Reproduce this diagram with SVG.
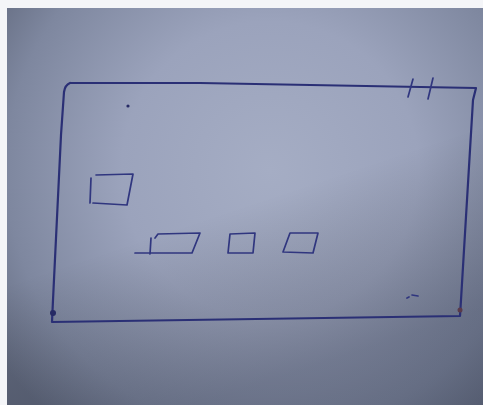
<svg xmlns="http://www.w3.org/2000/svg" width="483" height="405" viewBox="0 0 483 405">
  <defs>
    <radialGradient id="paper" cx="270" cy="170" r="330" gradientUnits="userSpaceOnUse">
      <stop offset="0" stop-color="#a5adc4"/>
      <stop offset="0.45" stop-color="#9ba3bc"/>
      <stop offset="0.8" stop-color="#7e879f"/>
      <stop offset="1" stop-color="#636b80"/>
    </radialGradient>
    <linearGradient id="shade" x1="0" y1="0" x2="0.4" y2="1">
      <stop offset="0" stop-color="#000" stop-opacity="0"/>
      <stop offset="0.6" stop-color="#000" stop-opacity="0"/>
      <stop offset="1" stop-color="#1a2030" stop-opacity="0.25"/>
    </linearGradient>
  </defs>
  <style>
    .ink { fill: none; stroke: #2a2f75; stroke-width: 2.2; stroke-linecap: round; stroke-linejoin: round; }
    .thin { fill: none; stroke: #30367f; stroke-width: 1.7; stroke-linecap: round; stroke-linejoin: round; }
    .dot { fill: #262a64; }
  </style>
  <rect x="0" y="0" width="483" height="405" fill="#f4f5f8"/>
  <rect x="7" y="8" width="476" height="397" fill="url(#paper)"/>
  <rect x="7" y="8" width="476" height="397" fill="url(#shade)"/>

  <!-- outer frame -->
  <path class="ink" d="M70 83 L200 83 L476 88 L473 100 Q467 200 461 300 L460 316 L52 322 L53 300 L61 135 L64 92 Q65 85 70 83"/>
  <!-- corner blobs -->
  <circle class="dot" cx="53" cy="313" r="3"/>
  <circle cx="460" cy="310" r="2.5" fill="#5a3a4a"/>

  <!-- hash marks top-right -->
  <path class="thin" d="M413 79 L408 97 M433 78 L428 99"/>

  <!-- small dot -->
  <circle class="dot" cx="128" cy="106" r="1.6"/>

  <!-- specks bottom-right -->
  <path class="thin" stroke-width="1.2" d="M407 298 L409 297 M412 295 L418 296"/>

  <!-- left square -->
  <path class="thin" d="M96 175 L133 174 L127 205 L93 203 M91 178 L90 203"/>

  <!-- bottom row shapes -->
  <path class="thin" d="M135 253 L192 253 L200 233 L158 234 L155 238 M151 238 L150 254"/>
  <path class="thin" d="M230 234 L255 233 L253 253 L228 253 Z"/>
  <path class="thin" d="M290 233 L318 233 L313 253 L283 252 Z"/>
</svg>
